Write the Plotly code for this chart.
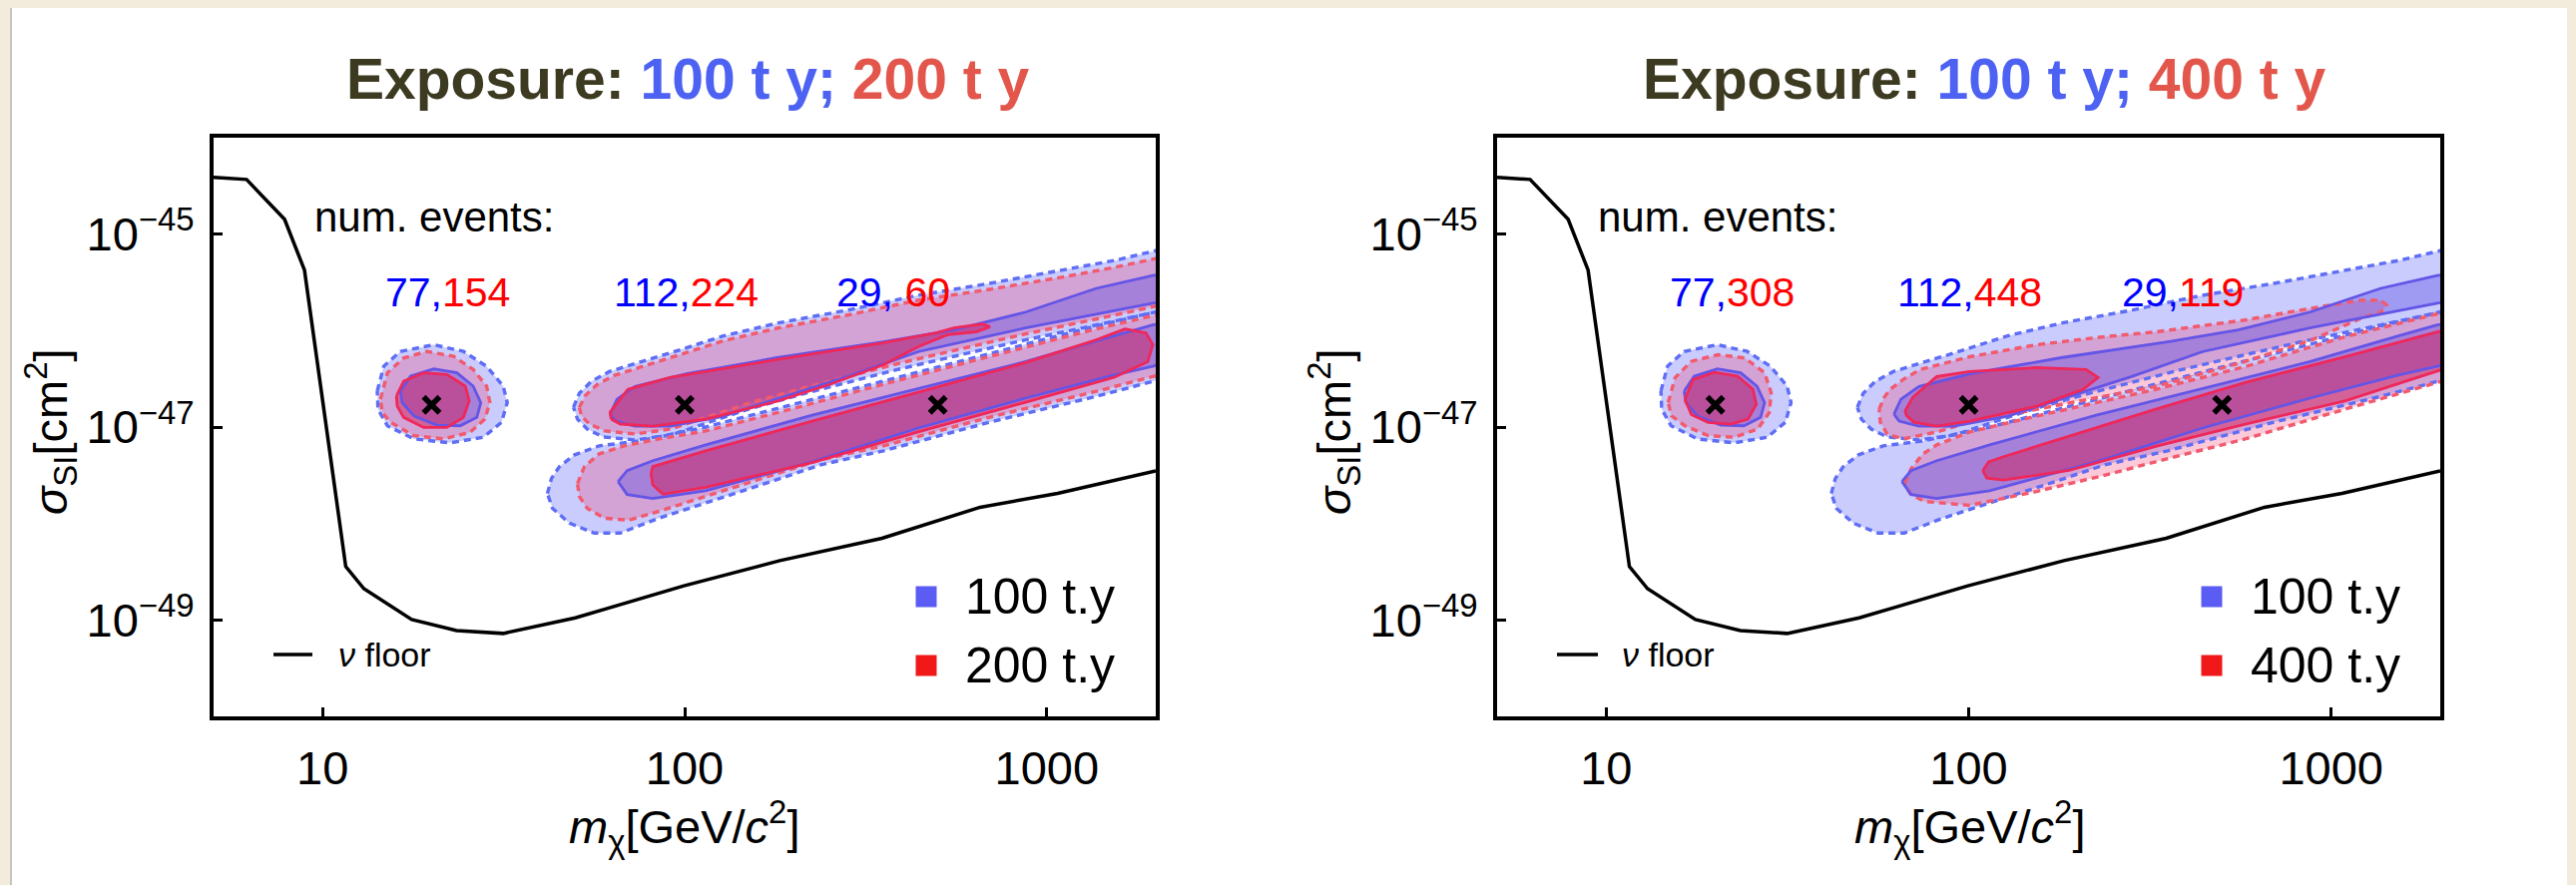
import plotly.graph_objects as go

W, H = 2581, 887

# ---------------- data ----------------
BENCH_MASS = [20, 100, 500]                 # GeV
BENCH_SIGMA = [1.7e-47, 1.7e-47, 1.7e-47]   # cm^2
EVENTS_100 = [77, 112, 29]
EVENTS_200 = [154, 224, 60]
EVENTS_400 = [308, 448, 119]

X_TICKS = [10, 100, 1000]
Y_TICKS = [1e-45, 1e-47, 1e-49]
Y_TICK_TEXT = ["10<sup>\u221245</sup>", "10<sup>\u221247</sup>", "10<sup>\u221249</sup>"]

# neutrino floor (log10 m, log10 sigma)
NU_LOGM = [0.699, 0.790, 0.895, 0.950, 1.064, 1.114, 1.246, 1.370, 1.499, 1.698, 1.788,
           1.998, 2.263, 2.545, 2.816, 3.030, 3.301]
NU_LOGS = [-44.41, -44.433, -44.846, -45.373, -48.447, -48.676, -48.995, -49.111, -49.140,
           -48.978, -48.879, -48.646, -48.385, -48.153, -47.832, -47.687, -47.455]

# ---- 20 GeV benchmark contours ----
C20_B_OUT_M = [1.151, 1.169, 1.215, 1.307, 1.389, 1.453, 1.499, 1.510, 1.494, 1.444, 1.352, 1.252, 1.179, 1.153]
C20_B_OUT_S = [-46.627, -46.370, -46.216, -46.147, -46.216, -46.370, -46.576, -46.747, -46.952, -47.106, -47.164, -47.123, -46.987, -46.815]
C20_B_IN_M = [1.215, 1.243, 1.307, 1.371, 1.416, 1.437, 1.426, 1.380, 1.316, 1.252, 1.220]
C20_B_IN_S = [-46.627, -46.473, -46.397, -46.438, -46.576, -46.747, -46.900, -46.987, -46.980, -46.884, -46.747]
C20_R200_OUT_M = [1.160, 1.179, 1.224, 1.288, 1.362, 1.416, 1.453, 1.462, 1.448, 1.407, 1.334, 1.252, 1.188, 1.165]
C20_R200_OUT_S = [-46.712, -46.438, -46.284, -46.216, -46.267, -46.404, -46.576, -46.747, -46.918, -47.055, -47.123, -47.089, -46.952, -46.849]
C20_R200_IN_M = [1.204, 1.224, 1.279, 1.343, 1.394, 1.405, 1.389, 1.343, 1.279, 1.224, 1.206]
C20_R200_IN_S = [-46.678, -46.524, -46.438, -46.456, -46.576, -46.729, -46.900, -47.004, -47.004, -46.900, -46.781]
C20_R400_OUT_M = [1.171, 1.190, 1.235, 1.308, 1.382, 1.437, 1.455, 1.450, 1.418, 1.354, 1.281, 1.217, 1.180]
C20_R400_OUT_S = [-46.746, -46.489, -46.319, -46.250, -46.284, -46.438, -46.644, -46.849, -47.021, -47.106, -47.089, -46.987, -46.884]
C20_R400_IN_M = [1.217, 1.240, 1.299, 1.363, 1.405, 1.414, 1.391, 1.345, 1.281, 1.235]
C20_R400_IN_S = [-46.712, -46.507, -46.432, -46.473, -46.610, -46.764, -46.918, -46.970, -46.952, -46.870]

# ---- 100 GeV benchmark contours ----
C100_B_OUT_M = [1.693, 1.709, 1.742, 1.792, 1.863, 1.962, 2.107, 2.258, 2.450, 2.645, 2.843, 3.038, 3.186, 3.301, 3.411,
                3.411, 3.301, 3.137, 2.942, 2.752, 2.588, 2.450, 2.313, 2.176, 2.058, 1.962, 1.863, 1.775, 1.731, 1.704]
C100_B_OUT_S = [-46.795, -46.651, -46.527, -46.425, -46.343, -46.230, -46.055, -45.921, -45.788, -45.634, -45.510, -45.377, -45.274, -45.171, -45.089,
                -45.736, -45.808, -45.942, -46.096, -46.260, -46.404, -46.538, -46.671, -46.815, -46.959, -47.082, -47.134, -47.103, -47.021, -46.918]
C100_B_IN_M = [1.794, 1.813, 1.863, 2.008, 2.255, 2.549, 2.744, 2.942, 3.137, 3.293, 3.411,
               3.411, 3.293, 3.137, 2.942, 2.843, 2.645, 2.450, 2.255, 2.107, 1.959, 1.863, 1.808]
C100_B_IN_S = [-46.867, -46.712, -46.579, -46.445, -46.281, -46.116, -45.993, -45.808, -45.562, -45.428, -45.356,
               -45.644, -45.716, -45.829, -45.973, -46.055, -46.219, -46.476, -46.712, -46.887, -46.990, -46.990, -46.939]
C100_R200_OUT_M = [1.709, 1.726, 1.759, 1.805, 1.874, 1.962, 2.107, 2.258, 2.450, 2.645, 2.843, 3.038, 3.186, 3.301, 3.411,
                   3.411, 3.301, 3.137, 2.942, 2.752, 2.588, 2.450, 2.313, 2.176, 2.058, 1.962, 1.863, 1.780, 1.737, 1.715]
C100_R200_OUT_S = [-46.795, -46.671, -46.558, -46.466, -46.384, -46.281, -46.106, -45.973, -45.839, -45.685, -45.572, -45.449, -45.346, -45.253, -45.171,
                   -45.664, -45.747, -45.880, -46.034, -46.199, -46.343, -46.476, -46.610, -46.754, -46.897, -47.021, -47.072, -47.041, -46.969, -46.887]
C100_R200_IN_M = [1.797, 1.794, 1.843, 1.959, 2.255, 2.549, 2.695, 2.744, 2.824, 2.843, 2.805, 2.725, 2.645, 2.549, 2.401, 2.255, 2.058, 1.912, 1.822]
C100_R200_IN_S = [-46.918, -46.846, -46.610, -46.486, -46.301, -46.127, -46.024, -45.973, -45.932, -45.962, -46.014, -46.045, -46.168, -46.353, -46.558, -46.733, -46.918, -46.990, -46.969]
C100_R400_OUT_M = [1.753, 1.767, 1.783, 1.819, 1.866, 2.003, 2.187, 2.371, 2.516, 2.763, 2.947, 3.084, 3.137, 3.153,
                   3.137, 3.084, 2.947, 2.763, 2.516, 2.371, 2.187, 2.003, 1.912, 1.819, 1.775, 1.756]
C100_R400_OUT_S = [-46.815, -46.692, -46.610, -46.507, -46.404, -46.271, -46.147, -46.065, -46.014, -45.890, -45.767, -45.685, -45.685, -45.736,
                   -45.808, -45.870, -46.096, -46.322, -46.579, -46.682, -46.815, -46.949, -47.051, -47.123, -47.072, -46.949]
C100_R400_IN_M = [1.824, 1.846, 1.912, 2.003, 2.187, 2.324, 2.357, 2.316, 2.187, 2.003, 1.912, 1.849, 1.830]
C100_R400_IN_S = [-46.836, -46.692, -46.476, -46.425, -46.384, -46.404, -46.486, -46.610, -46.784, -46.939, -46.990, -46.949, -46.887]

# ---- 500 GeV benchmark contours ----
C500_B_OUT_M = [1.621, 1.632, 1.654, 1.696, 1.764, 1.874, 2.058, 2.313, 2.588, 2.862, 3.137, 3.301, 3.411,
                3.411, 3.293, 3.137, 2.843, 2.549, 2.376, 2.255, 2.094, 1.929, 1.822, 1.750, 1.682, 1.635]
C500_B_OUT_S = [-47.689, -47.534, -47.411, -47.288, -47.195, -47.144, -47.000, -46.754, -46.486, -46.219, -45.952, -45.808, -45.716,
                -46.425, -46.527, -46.682, -46.949, -47.247, -47.391, -47.545, -47.740, -47.945, -48.099, -48.099, -47.997, -47.843]
C500_B_IN_M = [1.816, 1.841, 1.912, 2.058, 2.352, 2.645, 2.942, 3.186, 3.293, 3.411,
               3.411, 3.293, 3.186, 2.942, 2.645, 2.352, 2.058, 1.912, 1.841]
C500_B_IN_S = [-47.565, -47.452, -47.349, -47.185, -46.877, -46.599, -46.322, -46.055, -45.942, -45.849,
               -46.250, -46.370, -46.460, -46.700, -47.010, -47.360, -47.660, -47.740, -47.700]
C500_R200_OUT_M = [1.704, 1.723, 1.764, 1.833, 1.929, 2.058, 2.313, 2.588, 2.862, 3.137, 3.301, 3.411,
                   3.411, 3.293, 3.137, 2.843, 2.549, 2.376, 2.255, 2.094, 1.929, 1.846, 1.778, 1.731, 1.709]
C500_R200_OUT_S = [-47.586, -47.411, -47.278, -47.195, -47.123, -47.041, -46.795, -46.517, -46.250, -45.983, -45.839, -45.747,
                   -46.384, -46.476, -46.630, -46.897, -47.195, -47.339, -47.483, -47.678, -47.873, -47.966, -47.945, -47.843, -47.719]
C500_R200_IN_M = [1.907, 1.912, 2.058, 2.352, 2.645, 2.942, 3.137, 3.216, 3.274, 3.293, 3.279, 3.186, 2.942, 2.645, 2.352, 2.058, 1.940, 1.912]
C500_R200_IN_S = [-47.483, -47.411, -47.247, -46.939, -46.640, -46.332, -46.096, -45.983, -46.024, -46.147, -46.322, -46.485, -46.742, -47.050, -47.368, -47.625, -47.697, -47.600]
C500_R400_OUT_M = [1.824, 1.841, 1.874, 1.912, 2.003, 2.187, 2.516, 2.763, 3.038, 3.293, 3.411,
                   3.411, 3.293, 3.038, 2.763, 2.516, 2.371, 2.187, 2.003, 1.877, 1.838]
C500_R400_OUT_S = [-47.586, -47.432, -47.278, -47.185, -47.051, -46.887, -46.610, -46.373, -46.065, -45.819, -45.716,
                   -46.425, -46.538, -46.815, -47.123, -47.360, -47.504, -47.668, -47.812, -47.771, -47.689]
C500_R400_IN_M = [2.039, 2.055, 2.096, 2.277, 2.516, 2.763, 3.038, 3.293, 3.411, 3.411, 3.293, 3.038, 2.763, 2.516, 2.277, 2.096, 2.050]
C500_R400_IN_S = [-47.452, -47.360, -47.308, -47.093, -46.815, -46.538, -46.271, -46.014, -45.911, -46.281, -46.420, -46.730, -46.970, -47.200, -47.450, -47.550, -47.530]

# ---------------- styles ----------------
FONT = "Liberation Sans, Arial, Helvetica, sans-serif"
BLUE_OUT_FILL = "rgba(90,100,250,0.33)"
RED_OUT_FILL = "rgba(245,45,105,0.26)"
BLUE_IN_FILL = "rgba(85,70,225,0.36)"
RED_IN_FILL = "rgba(210,20,80,0.45)"
BLUE_DASH = "rgb(95,110,245)"
RED_DASH = "rgb(242,90,110)"
BLUE_SOLID = "rgb(100,85,230)"
RED_SOLID = "rgb(238,40,90)"

fig = go.Figure()


def closed(lm, ls):
    xs = [10 ** v for v in lm] + [10 ** lm[0]]
    ys = [10 ** v for v in ls] + [10 ** ls[0]]
    return xs, ys


panels = [
    ("x", "y",
     [(C20_B_OUT_M, C20_B_OUT_S), (C100_B_OUT_M, C100_B_OUT_S), (C500_B_OUT_M, C500_B_OUT_S)],
     [(C20_R200_OUT_M, C20_R200_OUT_S), (C100_R200_OUT_M, C100_R200_OUT_S), (C500_R200_OUT_M, C500_R200_OUT_S)],
     [(C20_B_IN_M, C20_B_IN_S), (C100_B_IN_M, C100_B_IN_S), (C500_B_IN_M, C500_B_IN_S)],
     [(C20_R200_IN_M, C20_R200_IN_S), (C100_R200_IN_M, C100_R200_IN_S), (C500_R200_IN_M, C500_R200_IN_S)]),
    ("x2", "y2",
     [(C20_B_OUT_M, C20_B_OUT_S), (C100_B_OUT_M, C100_B_OUT_S), (C500_B_OUT_M, C500_B_OUT_S)],
     [(C20_R400_OUT_M, C20_R400_OUT_S), (C100_R400_OUT_M, C100_R400_OUT_S), (C500_R400_OUT_M, C500_R400_OUT_S)],
     [(C20_B_IN_M, C20_B_IN_S), (C100_B_IN_M, C100_B_IN_S), (C500_B_IN_M, C500_B_IN_S)],
     [(C20_R400_IN_M, C20_R400_IN_S), (C100_R400_IN_M, C100_R400_IN_S), (C500_R400_IN_M, C500_R400_IN_S)]),
]

for xa, ya, b_out, r_out, b_in, r_in in panels:
    # fills
    for group, fc in ((b_out, BLUE_OUT_FILL), (r_out, RED_OUT_FILL), (b_in, BLUE_IN_FILL), (r_in, RED_IN_FILL)):
        for lm, ls in group:
            xs, ys = closed(lm, ls)
            fig.add_trace(go.Scatter(x=xs, y=ys, xaxis=xa, yaxis=ya, mode="lines", fill="toself",
                                     fillcolor=fc, line=dict(width=0), hoverinfo="skip", showlegend=False))
    # outlines
    for group, lc, dash, w in ((b_out, BLUE_DASH, "7px,5px", 3.4), (r_out, RED_DASH, "7px,5px", 3.4),
                               (b_in, BLUE_SOLID, "solid", 2.8), (r_in, RED_SOLID, "solid", 2.8)):
        for lm, ls in group:
            xs, ys = closed(lm, ls)
            fig.add_trace(go.Scatter(x=xs, y=ys, xaxis=xa, yaxis=ya, mode="lines",
                                     line=dict(color=lc, width=w, dash=dash), hoverinfo="skip", showlegend=False))
    # neutrino floor
    fig.add_trace(go.Scatter(x=[10 ** v for v in NU_LOGM], y=[10 ** v for v in NU_LOGS], xaxis=xa, yaxis=ya,
                             mode="lines", line=dict(color="black", width=3.5), showlegend=False))
    # benchmark points
    fig.add_trace(go.Scatter(x=BENCH_MASS, y=BENCH_SIGMA, xaxis=xa, yaxis=ya, mode="markers",
                             marker=dict(symbol="x-thin", size=16, line=dict(color="black", width=5.5)),
                             showlegend=False))

# ---------------- layout ----------------
XRANGE = [0.69897, 3.30103]
YRANGE = [-50, -44]
X1 = [214 / W, 1158 / W]
X2 = [1500 / W, 2445 / W]
YD = [1 - 718 / H, 1 - 138 / H]

tickfont = dict(family=FONT, size=47, color="black")


def main_x(domain, anchor):
    return dict(type="log", range=XRANGE, domain=domain, anchor=anchor, showline=True, linewidth=4,
                linecolor="black", mirror=True, ticks="inside", ticklen=9, tickwidth=2.5, tickcolor="black",
                tickvals=X_TICKS, ticktext=[str(v) for v in X_TICKS], tickfont=tickfont, showgrid=False,
                zeroline=False, ticklabelstandoff=8)


def main_y(anchor):
    return dict(type="log", range=YRANGE, domain=YD, anchor=anchor, showline=True, linewidth=4,
                linecolor="black", mirror=True, ticks="inside", ticklen=9, tickwidth=2.5, tickcolor="black",
                tickvals=Y_TICKS, ticktext=Y_TICK_TEXT, tickfont=tickfont, showgrid=False, zeroline=False,
                ticklabelstandoff=6)


TOP_TICKS = [10 ** (k / 4) for k in range(3, 14)]
RIGHT_TICKS = [10 ** (-44 - 0.2 * k) for k in range(0, 31)]


def top_x(over, anchor):
    return dict(type="log", range=XRANGE, overlaying=over, anchor=anchor, side="top", ticks="inside",
                ticklen=8, tickwidth=2.5, tickcolor="black", tickvals=TOP_TICKS, showticklabels=False,
                showgrid=False, showline=False, zeroline=False)


def right_y(over, anchor):
    return dict(type="log", range=YRANGE, overlaying=over, anchor=anchor, side="right", ticks="inside",
                ticklen=7, tickwidth=2.5, tickcolor="black", tickvals=RIGHT_TICKS, showticklabels=False,
                showgrid=False, showline=False, zeroline=False)


def px(x):
    return x / W


def py(y):
    return 1 - y / H


annotations = []


def ann(text, x, y, size, xanchor="center", yanchor="middle", color="black", angle=0):
    annotations.append(dict(text=text, x=px(x), y=py(y), xref="paper", yref="paper", showarrow=False,
                            xanchor=xanchor, yanchor=yanchor, textangle=angle,
                            font=dict(family=FONT, size=size, color=color)))


TITLE_DARK = "#3c3a20"
TITLE_BLUE = "#4d62f2"
TITLE_RED = "#e3564c"
for cx, exp2 in ((689, 200), (1988, 400)):
    ann("<b><span style='color:%s'>Exposure: </span><span style='color:%s'>100 t y; </span>"
        "<span style='color:%s'>%d t y</span></b>" % (TITLE_DARK, TITLE_BLUE, TITLE_RED, exp2), cx, 79, 57)

ann("num. events:", 313, 218, 42, xanchor="left")
ann("num. events:", 1599, 218, 42, xanchor="left")

left_pos = [448, 687, 895]
right_pos = [1735, 1973, 2187]
for i in range(3):
    sep = ", " if (i == 2) else ","
    ann("<span style='color:#0000ff'>%d%s</span><span style='color:#ff0000'>%d</span>"
        % (EVENTS_100[i], sep, EVENTS_200[i]), left_pos[i], 293, 41)
    ann("<span style='color:#0000ff'>%d,</span><span style='color:#ff0000'>%d</span>"
        % (EVENTS_100[i], EVENTS_400[i]), right_pos[i], 293, 41)

for cx in (685, 1973):
    ann("<i>m</i><sub>\u03c7</sub>[GeV/<i>c</i><sup>2</sup>]", cx, 828, 47)
for cx in (50, 1336):
    ann("<i>\u03c3</i><sub>SI</sub>[cm<sup>2</sup>]", cx, 433, 47, angle=-90)

# legends
ann("100 t.y", 965, 598, 50, xanchor="left")
ann("200 t.y", 965, 667, 50, xanchor="left")
ann("100 t.y", 2253, 598, 50, xanchor="left")
ann("400 t.y", 2253, 667, 50, xanchor="left")
ann("<i>\u03bd</i> floor", 337, 656, 34, xanchor="left")
ann("<i>\u03bd</i> floor", 1623, 656, 34, xanchor="left")

shapes = [
    dict(type="rect", xref="paper", yref="paper", x0=px(10), x1=px(2572), y0=-0.01, y1=py(8),
         fillcolor="white", line=dict(width=0), layer="below"),
    dict(type="line", xref="paper", yref="paper", x0=px(11), x1=px(11), y0=-0.01, y1=py(8),
         line=dict(color="#c4c4c4", width=2), layer="below"),
]
for sx in (928, 2216):
    shapes.append(dict(type="rect", xref="paper", yref="paper", x0=px(sx - 10.5), x1=px(sx + 10.5),
                       y0=py(608.5), y1=py(587.5), fillcolor="#5a5cf4", line=dict(width=0)))
    shapes.append(dict(type="rect", xref="paper", yref="paper", x0=px(sx - 10.5), x1=px(sx + 10.5),
                       y0=py(677.5), y1=py(656.5), fillcolor="#f01818", line=dict(width=0)))
for x0, x1 in ((274, 313), (1560, 1601)):
    shapes.append(dict(type="line", xref="paper", yref="paper", x0=px(x0), x1=px(x1), y0=py(656), y1=py(656),
                       line=dict(color="black", width=3.5)))

fig.update_layout(
    width=W, height=H, margin=dict(l=0, r=0, t=0, b=0),
    paper_bgcolor="#f3ebdb", plot_bgcolor="white", showlegend=False,
    font=dict(family=FONT, color="black"),
    xaxis=main_x(X1, "y"), yaxis=main_y("x"),
    xaxis2=main_x(X2, "y2"), yaxis2=main_y("x2"),
    xaxis3=top_x("x", "y"), yaxis3=right_y("y", "x"),
    xaxis4=top_x("x2", "y2"), yaxis4=right_y("y2", "x2"),
    annotations=annotations, shapes=shapes,
)

fig.write_html("out.html")
